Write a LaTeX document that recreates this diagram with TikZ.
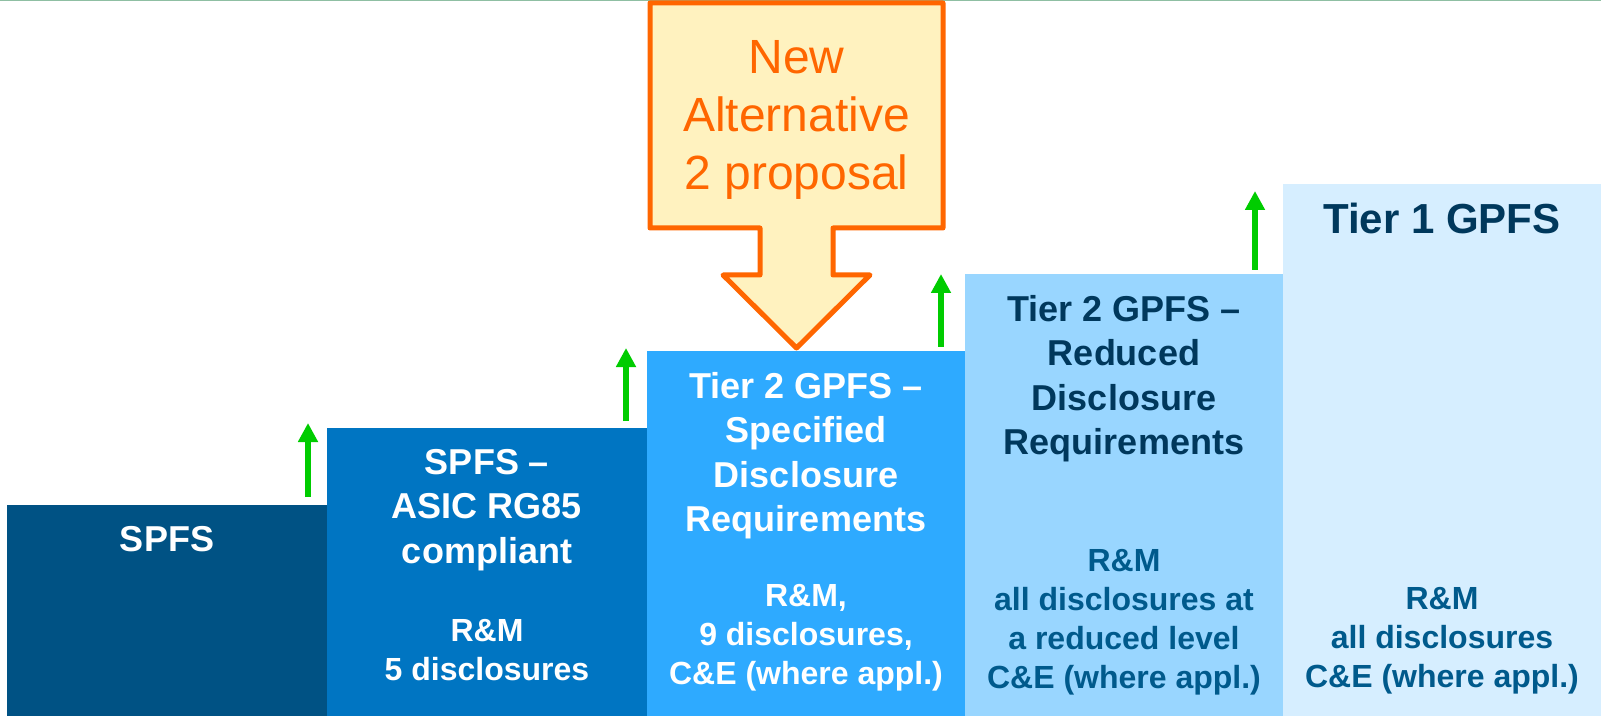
\documentclass[tikz,border=0pt]{standalone}
\usepackage{fontspec}
\setmainfont{Liberation Sans}
\usetikzlibrary{arrows.meta}

\definecolor{spfsblue}{RGB}{0,82,132}
\definecolor{asicblue}{RGB}{0,117,194}
\definecolor{sdrblue}{RGB}{46,170,255}
\definecolor{rdrblue}{RGB}{153,214,255}
\definecolor{tierfill}{RGB}{214,238,255}
\definecolor{navytext}{RGB}{0,56,92}
\definecolor{midtext}{RGB}{0,90,140}
\definecolor{calloutorange}{RGB}{255,102,0}
\definecolor{calloutfill}{RGB}{255,242,191}
\definecolor{stepgreen}{RGB}{0,204,0}
\definecolor{rulegreen}{RGB}{143,191,163}

\tikzset{
  tier/.style={anchor=south west, inner sep=0pt, outer sep=0pt, minimum width=320pt},
  heading/.style={anchor=north, inner sep=0pt, align=center, font=\bfseries\fontsize{36}{44.5}\selectfont},
  note/.style={anchor=north, inner sep=0pt, align=center, font=\bfseries\fontsize{32}{39}\selectfont},
  steparrow/.style={stepgreen, line width=6pt, -{Triangle[width=19pt,length=19pt]}},
  callout/.style={draw=calloutorange, fill=calloutfill, line width=5pt, line join=round}
}

\begin{document}
\begin{tikzpicture}[x=1pt,y=1pt]
  \useasboundingbox (0,0) rectangle (1601,716);
  \fill[white] (0,0) rectangle (1601,716);
  \draw[rulegreen, line width=2pt] (0,716)--(1601,716);

  % the steps
  \node[tier, fill=spfsblue, minimum height=211pt] (spfs) at (7,0) {};
  \node[tier, fill=asicblue, minimum height=288pt] (asic) at (spfs.south east) {};
  \node[tier, fill=sdrblue, minimum width=318pt, minimum height=365pt] (sdr) at (asic.south east) {};
  \node[tier, fill=rdrblue, minimum width=318pt, minimum height=442pt] (rdr) at (sdr.south east) {};
  \node[tier, fill=tierfill, minimum width=318pt, minimum height=532pt] (tierone) at (rdr.south east) {};

  \node[heading, text=white] (spfs title) at ([yshift=-21pt]spfs.north) {SPFS};
  \node[heading, text=white] (asic title) at ([yshift=-21pt]asic.north) {SPFS --\\ASIC RG85\\compliant};
  \node[heading, text=white] (sdr title) at ([yshift=-21pt]sdr.north) {Tier 2 GPFS --\\Specified\\Disclosure\\Requirements};
  \node[heading, text=navytext] (rdr title) at ([yshift=-21pt]rdr.north) {Tier 2 GPFS --\\Reduced\\Disclosure\\Requirements};
  \node[heading, text=navytext, font=\bfseries\fontsize{42}{50}\selectfont] (tierone title) at ([yshift=-19pt]tierone.north) {Tier 1 GPFS};

  \node[note, text=white] (asic note) at ([yshift=97pt]asic.south) {R\&M\\5 disclosures};
  \node[note, text=white] (sdr note) at ([yshift=132pt]sdr.south) {R\&M,\\9 disclosures,\\C\&E (where appl.)};
  \node[note, text=midtext] (rdr note) at ([yshift=167pt]rdr.south) {R\&M\\all disclosures at\\a reduced level\\C\&E (where appl.)};
  \node[note, text=midtext] (tierone note) at ([yshift=129pt]tierone.south) {R\&M\\all disclosures\\C\&E (where appl.)};

  % green step arrows
  \coordinate (up1 start) at (308,219);
  \coordinate (up1 end) at (308,293);
  \coordinate (up2 start) at (626,295);
  \coordinate (up2 end) at (626,368);
  \coordinate (up3 start) at (941,369);
  \coordinate (up3 end) at (941,442);
  \coordinate (up4 start) at (1255,446);
  \coordinate (up4 end) at (1255,525);
  \draw[steparrow] (up1 start)--(up1 end);
  \draw[steparrow] (up2 start)--(up2 end);
  \draw[steparrow] (up3 start)--(up3 end);
  \draw[steparrow] (up4 start)--(up4 end);

  % the new proposal
  \draw[callout] (650,713)--(943,713)--(943,488)--(833,488)--(833,441)--(870,441)
    --(796.5,368)--(723,441)--(760,441)--(760,488)--(650,488)--cycle;
  \node[anchor=north, inner sep=0pt, align=center, text=calloutorange,
    font=\fontsize{48}{58}\selectfont] (proposal) at (796.5,675.5) {New\\Alternative\\2 proposal};
\end{tikzpicture}
\end{document}
